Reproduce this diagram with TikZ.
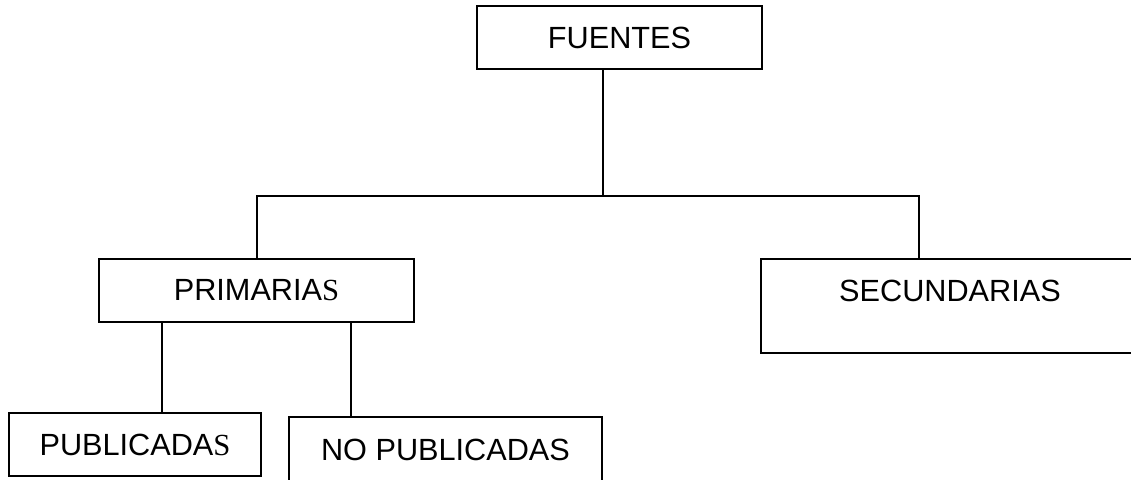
\documentclass[tikz,border=0pt]{standalone}
\usepackage{fontspec}
\setmainfont{Liberation Sans}
\newfontfamily\serifS{Liberation Serif}
\begin{document}
\begin{tikzpicture}[x=0.75pt,y=-0.75pt,
  box/.style={draw=black, line width=1.6pt, inner sep=0pt, rectangle},
  txt/.style={inner sep=0pt, font=\fontsize{23}{27}\selectfont},
  link/.style={draw=black, line width=1.6pt}]
\clip (0,0) rectangle (1131,479);
\fill[white] (0,0) rectangle (1131,479);
% boxes
\node[box, txt, minimum width=213.75pt, minimum height=47.25pt] (fuentes) at (619.5,37.5) {FUENTES};
\node[box, txt, minimum width=236.25pt, minimum height=47.25pt] (primarias) at (256.5,290.5) {PRIMARIA{\serifS S}};
\node[box, minimum width=283.5pt, minimum height=70.5pt] (secundarias) at (950,306) {};
\node[txt] (sectext) at (950,291) {SECUNDARIAS};
\node[box, txt, minimum width=189pt, minimum height=47.25pt] (publicadas) at (135,444.5) {PUBLICADA{\serifS S}};
\node[box, txt, minimum width=234.75pt, minimum height=49.5pt] (nopub) at (445.5,450) {NO PUBLICADAS};
% connectors
\coordinate (hub) at (603,196);
\coordinate (lx) at (257,196);
\coordinate (rx) at (919,196);
\draw[link] (fuentes.south -| hub) -- (hub);
\draw[link] (primarias.north -| lx) -- (lx) -- (rx) -- (secundarias.north -| rx);
\coordinate (p1) at (162,400);
\coordinate (p2) at (351,400);
\draw[link] (primarias.south -| p1) -- (publicadas.north -| p1);
\draw[link] (primarias.south -| p2) -- (nopub.north -| p2);
\end{tikzpicture}
\end{document}
